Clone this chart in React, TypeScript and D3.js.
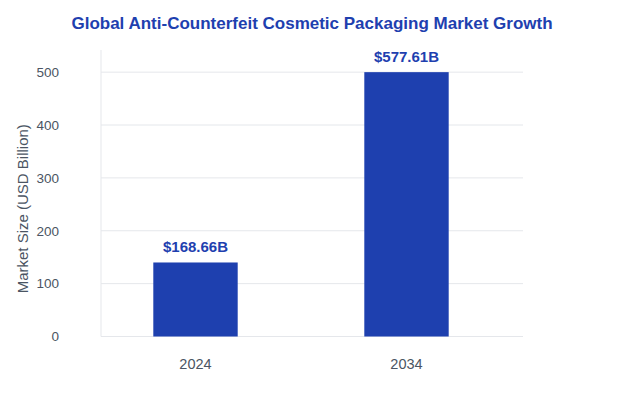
import React from "react";
import * as d3 from "d3";

const categories = ["2024", "2034"];
const barValues = [140, 500];
const barLabels = ["$168.66B", "$577.61B"];
const yTicks = [0, 100, 200, 300, 400, 500];

const W = 624;
const H = 415;
const plotLeft = 101;
const plotRight = 523;
const plotTop = 51;
const plotBottom = 336.5;
const blue = "#1e40af";
const font = "'Liberation Sans', Arial, Helvetica, sans-serif";

export default function App() {
  const y = d3.scaleLinear().domain([0, 540]).range([plotBottom, plotTop]);
  const x = d3
    .scaleBand<string>()
    .domain(categories)
    .range([plotLeft - 11, plotRight - 11])
    .paddingInner(0.6)
    .paddingOuter(0.3);
  const bw = x.bandwidth();

  return (
    <svg
      width={W}
      height={H}
      style={{ position: "fixed", left: 0, top: 0, background: "#fff", fontFamily: font }}
    >
      <text x={W / 2} y={29} textAnchor="middle" fontSize={17} fontWeight="bold" fill={blue}>
        Global Anti-Counterfeit Cosmetic Packaging Market Growth
      </text>
      {yTicks.map((t) => (
        <g key={t}>
          <line x1={plotLeft} x2={plotRight} y1={y(t)} y2={y(t)} stroke="#e5e7eb" strokeWidth={1} />
          <text x={59} y={y(t)} dy="0.36em" textAnchor="end" fontSize={13.5} fill="#4b5563">
            {t}
          </text>
        </g>
      ))}
      <line x1={plotLeft} x2={plotLeft} y1={plotTop - 1} y2={plotBottom} stroke="#e5e7eb" strokeWidth={1} />
      {categories.map((c, i) => {
        const v = Math.min(barValues[i], 500);
        const bx = x(c)!;
        return (
          <g key={c}>
            <rect x={bx} y={y(v)} width={bw} height={plotBottom - y(v)} fill={blue} />
            <text x={bx + bw / 2} y={y(v) - 10} textAnchor="middle" fontSize={15} fontWeight="bold" fill={blue}>
              {barLabels[i]}
            </text>
            <text x={bx + bw / 2} y={369} textAnchor="middle" fontSize={14.5} fill="#4b5563">
              {c}
            </text>
          </g>
        );
      })}
      <text
        transform={`translate(28, ${(plotTop + plotBottom) / 2 + 15}) rotate(-90)`}
        textAnchor="middle"
        fontSize={15}
        fill="#4b5563"
      >
        Market Size (USD Billion)
      </text>
    </svg>
  );
}
